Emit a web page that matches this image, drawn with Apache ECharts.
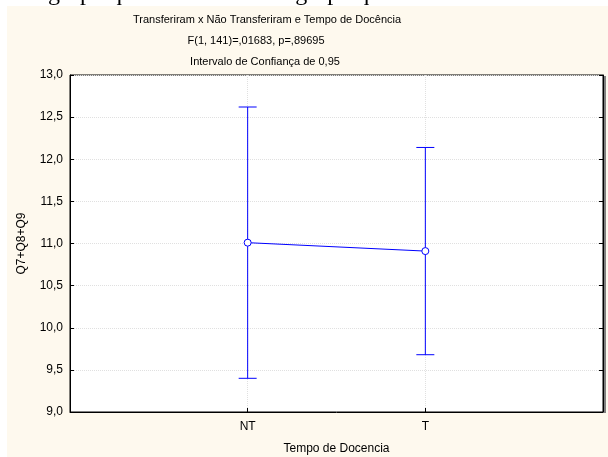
<!DOCTYPE html>
<html>
<head>
<meta charset="utf-8">
<script src="https://cdn.jsdelivr.net/npm/echarts@6/dist/echarts.min.js"></script>
<style>
html,body{margin:0;padding:0;background:#fff;}
#wrap{position:relative;width:608px;height:457px;overflow:hidden;background:#fff;}
#bg{position:absolute;left:7px;top:6px;width:601px;height:451px;background:#FEF9EE;}
#chart{position:absolute;left:0;top:0;width:608px;height:457px;}
</style>
</head>
<body>
<div id="wrap"><div id="bg"></div><div id="chart"></div></div>
<script>
const categories = ['NT', 'T'];
const means = [11.01, 10.91];
const upper = [12.62, 12.14];
const lower = [9.40, 9.68];
const titleLines = ['Transferiram x Não Transferiram e Tempo de Docência', 'F(1, 141)=,01683, p=,89695', 'Intervalo de Confiança de 0,95'];

const font = 'Liberation Sans';
const chart = echarts.init(document.getElementById('chart'), null, {renderer: 'canvas'});

const meanData = means.map((v, i) => [i + 1, v]);
const errData = means.map((v, i) => [i + 1, lower[i], upper[i]]);

function titleText(txt, x, y) {
  return {type: 'text', x: x, y: y, silent: true,
    style: {text: txt, fontFamily: font, fontSize: 11, fill: '#000', align: 'center', verticalAlign: 'middle'}};
}

chart.setOption({
  animation: false,
  backgroundColor: 'transparent',
  textStyle: {fontFamily: font},
  graphic: [
    {type: 'text', x: 18, y: 6, silent: true,
     style: {text: 'do grupo que transferiu e do grupo que não transferiu.', fontFamily: 'Liberation Serif', fontSize: 24, fill: '#000', verticalAlign: 'bottom'}},
    titleText(titleLines[0], 267, 20),
    titleText(titleLines[1], 256, 41),
    titleText(titleLines[2], 265, 62),
    {type: 'rect', shape: {x: 604, y: 76, width: 2, height: 337}, style: {fill: '#808080'}, silent: true}
  ],
  grid: {left: 70, right: 5, top: 75, bottom: 45, show: true, backgroundColor: '#fff', borderColor: '#000', borderWidth: 1, containLabel: false, outerBoundsMode: 'none'},
  xAxis: {
    type: 'value', min: 0, max: 3, interval: 1,
    name: 'Tempo de Docencia', nameLocation: 'middle', nameGap: 31,
    nameTextStyle: {fontFamily: font, fontSize: 12, color: '#000'},
    axisLine: {show: true, lineStyle: {color: '#000'}},
    axisTick: {show: true, inside: true, length: 4, lineStyle: {color: '#000'}},
    axisLabel: {fontFamily: font, fontSize: 12, color: '#000', margin: 9,
      formatter: v => (v >= 1 && v <= categories.length) ? categories[v - 1] : ''},
    splitLine: {show: true, lineStyle: {color: '#e0e0e0', type: 'dotted'}}
  },
  yAxis: [{
    type: 'value', min: 9, max: 13, interval: 0.5,
    name: 'Q7+Q8+Q9', nameLocation: 'middle', nameGap: 42, nameRotate: 90,
    nameTextStyle: {fontFamily: font, fontSize: 12, color: '#000'},
    axisLine: {show: true, lineStyle: {color: '#000'}},
    axisTick: {show: true, inside: true, length: 4, lineStyle: {color: '#000'}},
    axisLabel: {fontFamily: font, fontSize: 12, color: '#000', margin: 7,
      formatter: v => v.toFixed(1).replace('.', ',')},
    splitLine: {show: true, lineStyle: {color: '#e0e0e0', type: 'dotted'}}
  }, {
    type: 'value', min: 9, max: 13, interval: 0.5, position: 'right',
    axisLine: {show: true, lineStyle: {color: '#000'}},
    axisTick: {show: true, inside: true, length: 4, lineStyle: {color: '#000'}},
    axisLabel: {show: false}, splitLine: {show: false}
  }],
  series: [{
    type: 'custom',
    renderItem: function (params, api) {
      const x = api.value(0);
      const lo = api.coord([x, api.value(1)]);
      const hi = api.coord([x, api.value(2)]);
      const hw = 9;
      const st = {stroke: '#0000FF', lineWidth: 1};
      return {type: 'group', children: [
        {type: 'line', shape: {x1: lo[0], y1: lo[1], x2: hi[0], y2: hi[1]}, style: st},
        {type: 'line', shape: {x1: lo[0] - hw, y1: lo[1], x2: lo[0] + hw, y2: lo[1]}, style: st},
        {type: 'line', shape: {x1: hi[0] - hw, y1: hi[1], x2: hi[0] + hw, y2: hi[1]}, style: st}
      ]};
    },
    data: errData, z: 3
  }, {
    type: 'line', data: meanData, symbol: 'circle', symbolSize: 7,
    itemStyle: {color: '#fff', borderColor: '#0000FF', borderWidth: 1},
    lineStyle: {color: '#0000FF', width: 1}, z: 4
  }]
});
</script>
</body>
</html>
